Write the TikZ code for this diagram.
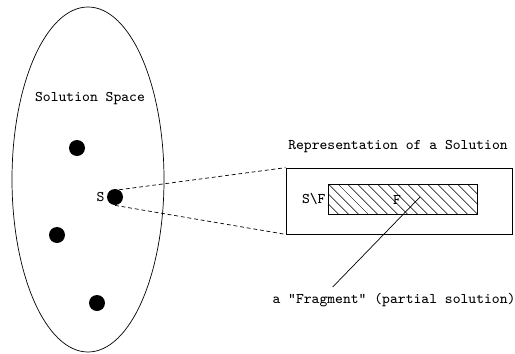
\documentclass[tikz,border=0pt]{standalone}
\usetikzlibrary{shapes.geometric,patterns.meta,calc}

\begin{document}
\begin{tikzpicture}[x=1cm,y=1cm,font=\ttfamily\fontsize{8.4}{10}\selectfont,
  pt/.style={circle,fill=black,inner sep=0pt,minimum size=3.2mm},
  zoomline/.style={dash pattern=on 2.2pt off 1.6pt},
  frame/.style={draw,minimum width=4.52cm,minimum height=1.32cm,inner sep=0pt},
  hatch/.style={draw,minimum width=2.98cm,minimum height=0.6cm,inner sep=0pt,
    pattern={Lines[angle=-45,distance=4pt,line width=0.4pt]}}]
\useasboundingbox (0,0) rectangle (10.3,7.06);
\node[draw,ellipse,minimum width=3.04cm,minimum height=6.9cm,inner sep=0pt] (space) at (1.76,3.47) {};
\node (spacelab) at (1.80,5.08) {Solution Space};
\foreach \n/\x/\y in {p1/1.54/4.10,s/2.30/3.12,p2/1.14/2.36,p3/1.94/1.00}
  \node[pt] (\n) at (\x,\y) {};
\node[anchor=east,inner sep=1pt] (slab) at (s.west) {S};
\node[frame] (rep) at (7.98,3.04) {};
\node (replab) at (7.96,4.12) {Representation of a Solution};
\node[hatch] (frag) at (8.05,3.08) {};
\node[anchor=east,inner sep=1pt] (sf) at (frag.west) {S\textbackslash F};
\node[inner sep=1pt] (f) at (7.94,3.06) {F};
\coordinate (fragpt) at (8.40,3.12);
\node (fraglab) at (7.88,1.06) {a "Fragment" (partial solution)};
\draw[zoomline] (s.60) -- (rep.north west);
\draw[zoomline] (s.south) -- (rep.south west);
\draw (fragpt) -- ($(fraglab.north west)!0.26!(fraglab.north east)$);
\end{tikzpicture}
\end{document}
